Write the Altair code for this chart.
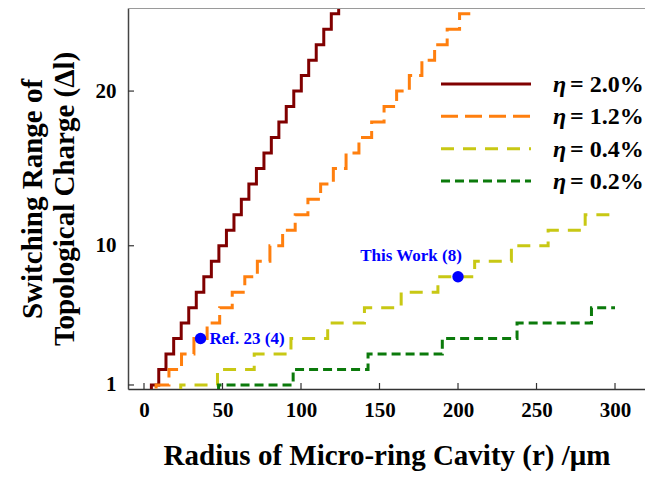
import altair as alt
import pandas as pd

# ---- data ----
eta_values = ["2.0%", "1.2%", "0.4%", "0.2%"]
series_names = ["η = " + v for v in eta_values]
colors = ["#800000", "#ff7f0e", "#c8c814", "#0b7a0b"]
dashes = [[1, 0], [17, 7], [13, 9], [9, 5]]

# radius (um) at which each series steps up to level 1, 2, 3, ...
red_jumps = [4.7, 9.4, 14.0, 18.9, 23.7, 28.5, 33.3, 38.1, 42.9, 47.7, 52.5, 57.3, 62.0,
             66.8, 71.6, 76.4, 81.1, 85.9, 90.6, 95.4, 100.2, 104.9, 109.7, 114.5, 119.3, 124.0]
orange_jumps = [7.7, 15.9, 23.9, 31.8, 40.2, 48.2, 56.2, 64.2, 72.2, 80.2, 88.3, 96.3, 104.4,
                112.5, 120.6, 128.7, 136.9, 145.0, 152.9, 160.9, 169.0, 177.0, 185.1, 193.1, 201.0, 209.0]
yellow_jumps = [23.4, 46.8, 70.2, 93.6, 117.0, 140.4, 163.8, 187.2, 210.6, 234.0, 257.4, 281.0]
green_jumps = [47.5, 95.0, 142.7, 190.0, 237.6, 285.0]
series_jumps = [red_jumps, orange_jumps, yellow_jumps, green_jumps]
series_end = [None, None, 300, 300]

x_ticks = [0, 50, 100, 150, 200, 250, 300]
y_ticks = [1, 10, 20]

point_r = [36, 200]
point_dl = [4, 8]
point_labels = ["Ref. 23 (4)", "This Work (8)"]

# ---- tables ----
rows = []
for name, jumps, end in zip(series_names, series_jumps, series_end):
    idx = 0
    rows.append({"series": name, "r": 0, "dl": 0, "idx": idx})
    for k, j in enumerate(jumps, start=1):
        idx += 1
        rows.append({"series": name, "r": j, "dl": k, "idx": idx})
    if end is not None:
        idx += 1
        rows.append({"series": name, "r": end, "dl": len(jumps), "idx": idx})
lines_df = pd.DataFrame(rows)
pts_df = pd.DataFrame({"r": point_r, "dl": point_dl, "label": point_labels})
xt_df = pd.DataFrame({"r": x_ticks})
yt_df = pd.DataFrame({"dl": y_ticks})
leg_df = pd.DataFrame({"series": series_names, "value": ["= " + v for v in eta_values], "eta": ["η"] * 4})

W, H = 517, 381
FONT = "Liberation Serif"

xscale = alt.Scale(domain=[-10.19, 319.1], nice=False, zero=False)
yscale = alt.Scale(domain=[0.74, 25.37], nice=False, zero=False)
cscale = alt.Scale(domain=series_names, range=colors)
dscale = alt.Scale(domain=series_names, range=dashes)

xaxis = alt.Axis(values=x_ticks, ticks=False, grid=False, domainColor="#333", domainWidth=1.5,
                 labelFont=FONT, labelFontSize=21, labelFontWeight="bold", labelColor="black",
                 labelPadding=10, title="Radius of Micro-ring Cavity (r) /μm", titleFont=FONT,
                 titleFontSize=29, titleFontWeight="bold", titleColor="black", titlePadding=21)
yaxis = alt.Axis(values=y_ticks, ticks=False, grid=False, domainColor="#444", domainWidth=1.5,
                 labelFont=FONT, labelFontSize=21, labelFontWeight="bold", labelColor="black",
                 labelPadding=12, title=["Switching Range of", "Topological Charge (Δl)"],
                 titleFont=FONT, titleFontSize=29, titleFontWeight="bold", titleColor="black",
                 titlePadding=16, titleLineHeight=32)

X = alt.X("r:Q", scale=xscale, axis=xaxis)

lines = alt.Chart(lines_df).mark_line(interpolate="step-after", strokeWidth=3, clip=True).encode(
    x=X,
    y=alt.Y("dl:Q", scale=yscale, axis=yaxis),
    color=alt.Color("series:N", scale=cscale, legend=None),
    strokeDash=alt.StrokeDash("series:N", scale=dscale, legend=None),
    detail="series:N",
    order="idx:Q",
)

xt = alt.Chart(xt_df).mark_rule(color="#333", strokeWidth=1.2).encode(
    x=X, y=alt.value(H), y2=alt.value(H - 6))
yt = alt.Chart(yt_df).mark_rule(color="#333", strokeWidth=1.2).encode(
    y=alt.Y("dl:Q", scale=yscale, axis=None), x=alt.value(0), x2=alt.value(6))
top_border = alt.Chart(xt_df).mark_rule(color="#999", strokeWidth=1.2).encode(
    x=alt.value(0), x2=alt.value(W), y=alt.value(0))

pts = alt.Chart(pts_df).mark_circle(size=130, color="#0000ff", opacity=1).encode(
    x=X, y=alt.Y("dl:Q", scale=yscale, axis=None))
lab1 = alt.Chart(pts_df).transform_filter(alt.datum.label == point_labels[0]).mark_text(
    align="left", baseline="middle", dx=9, font=FONT, fontSize=17, fontWeight="bold", color="#0000ff"
).encode(x=X, y=alt.Y("dl:Q", scale=yscale, axis=None), text="label:N")
lab2 = alt.Chart(pts_df).transform_filter(alt.datum.label == point_labels[1]).mark_text(
    align="center", baseline="middle", dx=-47, dy=-21, font=FONT, fontSize=17, fontWeight="bold", color="#0000ff"
).encode(x=X, y=alt.Y("dl:Q", scale=yscale, axis=None), text="label:N")

leg_y = alt.Y("series:N", sort=series_names, axis=None,
              scale=alt.Scale(type="point", domain=series_names, range=[76, 173], padding=0))
leg_rule = alt.Chart(leg_df).mark_rule(strokeWidth=3).encode(
    x=alt.value(313), x2=alt.value(403), y=leg_y,
    color=alt.Color("series:N", scale=cscale, legend=None),
    strokeDash=alt.StrokeDash("series:N", scale=dscale, legend=None))
leg_eta = alt.Chart(leg_df).mark_text(align="left", baseline="middle", font=FONT, fontSize=24,
                                      fontWeight="bold", fontStyle="italic", color="black", dy=1).encode(
    x=alt.value(425), y=leg_y, text="eta:N")
leg_val = alt.Chart(leg_df).mark_text(align="left", baseline="middle", font=FONT, fontSize=24,
                                      fontWeight="bold", color="black", dy=1).encode(
    x=alt.value(442), y=leg_y, text="value:N")

chart = alt.layer(lines, xt, yt, top_border, pts, lab1, lab2, leg_rule, leg_eta, leg_val).resolve_scale(
    y="independent"
).properties(
    width=W, height=H,
    autosize=alt.AutoSizeParams(type="none"),
    padding={"left": 120, "top": 0, "right": 0, "bottom": 82},
).configure_view(stroke=None).configure(background="white")

chart.save("out.html", embed_options={"renderer": "svg", "actions": False})
